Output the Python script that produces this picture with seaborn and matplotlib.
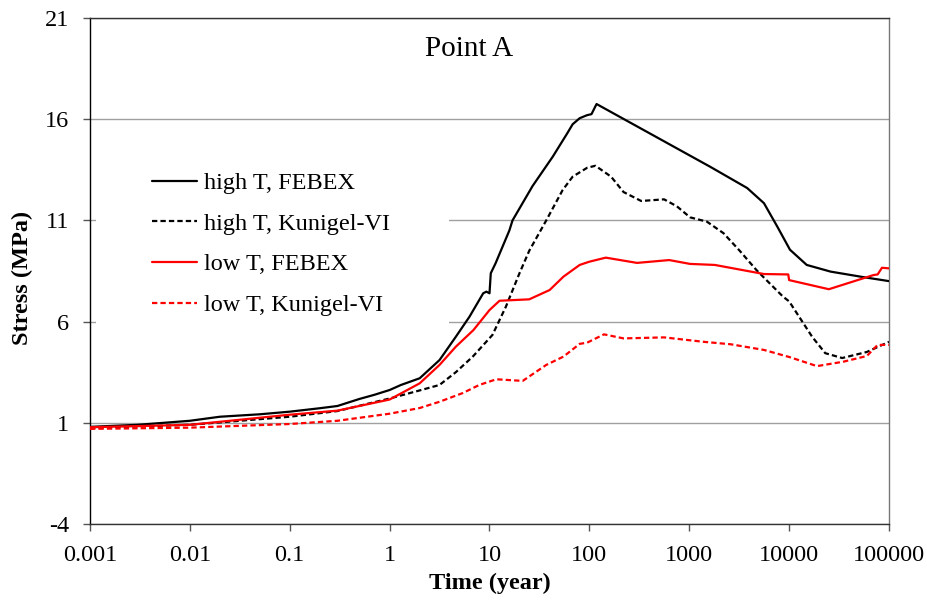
import numpy as np
import pandas as pd
import matplotlib
matplotlib.use("Agg")
import matplotlib.pyplot as plt
from matplotlib.patches import Rectangle
import seaborn as sns

# ---- data ----
t_hf = [0.001, 0.003, 0.01, 0.02, 0.05, 0.1, 0.2, 0.3, 0.5, 0.7, 1, 1.3, 2, 3.16, 4.6, 6.3, 8.65, 9.3,
        10.0, 10.1, 10.3, 11.5, 15.8, 17, 27, 43, 60, 68, 80, 95, 105, 110, 118, 1620, 3800, 5600, 7600,
        10200, 15000, 26000, 55000, 100000]
s_hf = [0.8, 0.9, 1.1, 1.3, 1.42, 1.55, 1.72, 1.83, 2.18, 2.38, 2.62, 2.87, 3.2, 4.1, 5.25, 6.24, 7.4, 7.48,
        7.4, 7.73, 8.39, 8.88, 10.5, 11.0, 12.7, 14.15, 15.3, 15.75, 16.05, 16.2, 16.25, 16.45, 16.75, 13.65,
        12.6, 11.85, 10.7, 9.55, 8.8, 8.47, 8.2, 8.0]

t_hk = [0.001, 0.01, 0.1, 0.3, 1, 2, 3.16, 4.6, 6.8, 10.7, 14.6, 20, 25, 37, 54, 68, 95, 115,
        165, 220, 330, 560, 750, 1020, 1500, 2200, 3200, 4700, 5900, 8700, 10000, 17000, 23000,
        34000, 60000, 100000]
s_hk = [0.75, 0.9, 1.3, 1.58, 2.2, 2.6, 2.87, 3.5, 4.27, 5.34, 6.74, 8.4, 9.5, 11.0, 12.5, 13.16, 13.6, 13.7,
        13.16, 12.4, 11.96, 12.04, 11.7, 11.15, 10.94, 10.37, 9.5, 8.55, 8.06, 7.23, 7.0, 5.25, 4.44,
        4.2, 4.5, 5.0]

t_lf = [0.001, 0.01, 0.1, 0.3, 1, 2, 3.16, 4.6, 6.9, 10, 12.6, 18.6, 25, 40, 55, 80, 100, 146,
        300, 630, 1020, 1800, 5600, 9800, 10000, 25000, 70000, 77000, 85000, 100000]
s_lf = [0.78, 0.9, 1.4, 1.6, 2.15, 2.95, 3.86, 4.76, 5.58, 6.57, 7.03, 7.07, 7.1, 7.56, 8.22, 8.8, 8.96, 9.16,
        8.9, 9.04, 8.85, 8.8, 8.35, 8.33, 8.05, 7.6, 8.3, 8.33, 8.66, 8.63]

t_lk = [0.001, 0.01, 0.1, 0.3, 1, 2, 3.16, 5.4, 7.9, 11.7, 21.5, 37, 55, 80, 95, 140, 220, 560,
        1400, 2600, 5600, 10200, 19000, 35000, 60000, 77000, 100000]
s_lk = [0.7, 0.76, 0.94, 1.1, 1.45, 1.73, 2.04, 2.47, 2.87, 3.15, 3.07, 3.86, 4.27, 4.9, 4.96, 5.37, 5.17, 5.22,
        5.0, 4.88, 4.6, 4.24, 3.8, 4.02, 4.3, 4.85, 4.85]

labels = ["high T, FEBEX", "high T, Kunigel-VI", "low T, FEBEX", "low T, Kunigel-VI"]
x_ticks = [0.001, 0.01, 0.1, 1, 10, 100, 1000, 10000, 100000]
x_tick_labels = ["0.001", "0.01", "0.1", "1", "10", "100", "1000", "10000", "100000"]
y_ticks = [-4, 1, 6, 11, 16, 21]

sns.set_theme(style="white")
plt.rcParams["font.family"] = ["Liberation Serif", "DejaVu Serif"]

fig = plt.figure(figsize=(9.28, 6.0), dpi=100)
ax = fig.add_axes([90/928, 1-524/600, (889-90)/928, (524-18)/600])

DASH = (0, (2.4, 1.4))
series = [(t_hf, s_hf, "black", "-"), (t_hk, s_hk, "black", DASH),
          (t_lf, s_lf, "#ff0000", "-"), (t_lk, s_lk, "#ff0000", DASH)]
for (t, s, c, ls), lab in zip(series, labels):
    df = pd.DataFrame({"t": t, "s": s})
    sns.lineplot(data=df, x="t", y="s", ax=ax, color=c, linewidth=1.6,
                 label=lab, sort=False, estimator=None)
    ax.lines[-1].set_linestyle(ls)
    ax.lines[-1].set_zorder(3)

ax.set_xscale("log")
ax.set_xlim(0.001, 100000)
ax.set_ylim(-4, 21)
ax.xaxis.set_major_locator(matplotlib.ticker.FixedLocator(x_ticks))
ax.xaxis.set_minor_locator(matplotlib.ticker.NullLocator())
ax.set_xticklabels(x_tick_labels)
ax.set_yticks(y_ticks)
ax.set_yticklabels([str(v) for v in y_ticks])
ax.grid(axis="y", color="#a0a0a0", linewidth=1.0)
ax.grid(axis="x", visible=False)
ax.set_axisbelow(True)

ax.tick_params(axis="both", direction="out", length=5, width=1, color="#555555",
               labelsize=17.5, pad=10, bottom=True, left=True, labelcolor="black")
for side, col in [("left", "black"), ("bottom", "#333333"), ("top", "#333333"), ("right", "#777777")]:
    ax.spines[side].set_visible(True)
    ax.spines[side].set_color(col)
    ax.spines[side].set_linewidth(1.0)

ax.set_xlabel("Time (year)", fontsize=17.5, fontweight="bold", color="black")
ax.set_ylabel("Stress (MPa)", fontsize=17.5, fontweight="bold", color="black")
ax.xaxis.set_label_coords(0.5, (524-573)/506)
ax.yaxis.set_label_coords((33-90)/799, (524-277.5)/506)
ax.text((469.5-90)/799, (524-56)/506, "Point A", transform=ax.transAxes, fontsize=21,
        ha="center", va="baseline", color="black")

# white background behind the legend (hides the gridlines there)
ax.add_patch(Rectangle(((96-90)/799, (524-350)/506), (449-96)/799, (350-128)/506,
                       transform=ax.transAxes, facecolor="white", edgecolor="none", zorder=1))

leg = ax.legend(loc="upper left", bbox_to_anchor=((152-90)/799, (524-172)/506), frameon=False,
                fontsize=17.5, handlelength=1.85, handletextpad=0.29, labelspacing=0.77, borderpad=0,
                borderaxespad=0)
for h, (_, _, c, ls) in zip(leg.get_lines(), series):
    h.set_linestyle(ls)
    h.set_color(c)
    h.set_linewidth(1.6)
for txt in leg.get_texts():
    txt.set_color("black")

fig.savefig("out.png", dpi=100, facecolor="white")
